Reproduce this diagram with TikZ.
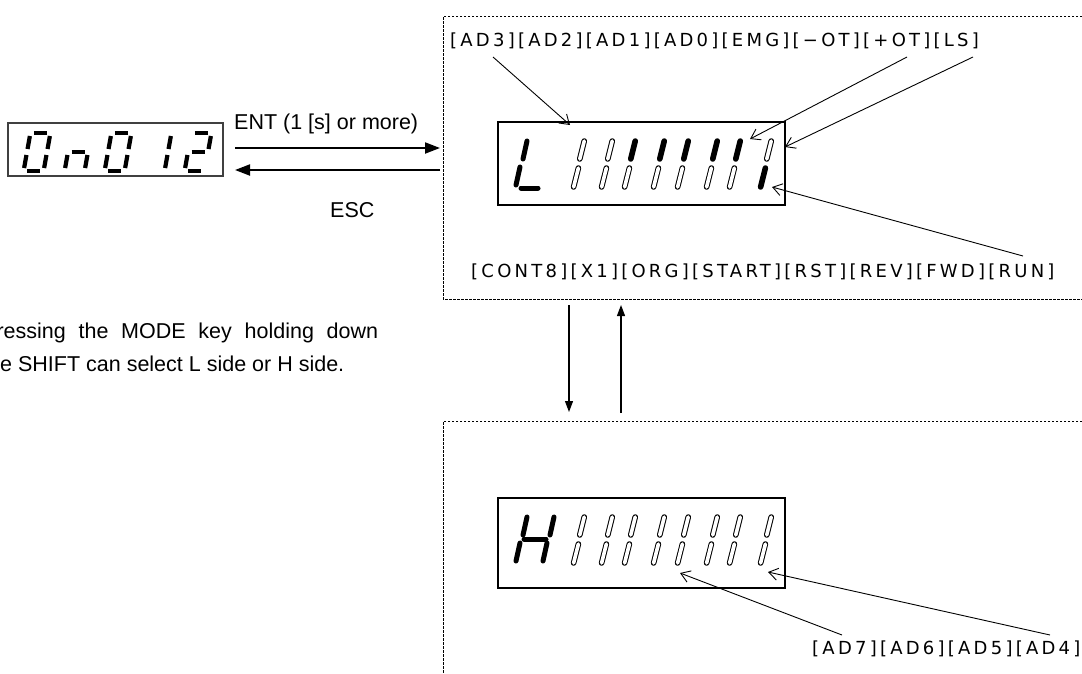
\documentclass[tikz,border=0pt]{standalone}
\usepackage{fontspec}
\setmainfont{Liberation Sans}
\newfontfamily\labfont[LetterSpace=18]{DejaVu Sans}
\usetikzlibrary{arrows.meta}
\newcommand\ssTop[1]{\draw[seg7] (#1-3.08,133)--(#1+9.92,133);}
\newcommand\ssMid[1]{\draw[seg7] (#1-6.5,152)--(#1+6.5,152);}
\newcommand\ssBot[1]{\draw[seg7] (#1-9.92,171)--(#1+3.08,171);}
\newcommand\ssUL[1]{\draw[seg7] (#1-7.12,136)--(#1-9.46,149);}
\newcommand\ssUR[1]{\draw[seg7] (#1+12.88,136)--(#1+10.54,149);}
\newcommand\ssLL[1]{\draw[seg7] (#1-10.54,155)--(#1-12.88,168);}
\newcommand\ssLR[1]{\draw[seg7] (#1+9.46,155)--(#1+7.12,168);}
\begin{document}
\begin{tikzpicture}[x=1pt,y=-1pt,
  seg7/.style={line width=4.2pt},
  segon/.style={line width=5pt, line cap=round},
  segouter/.style={line width=5.6pt, line cap=round},
  seginner/.style={line width=3.6pt, line cap=round, white},
  disp/.style={draw, line width=1.8pt},
  dbox/.style={dash pattern=on 2.5pt off 1.5pt, line width=0.8pt},
  bigarrow/.style={line width=2pt, -{Triangle[length=15pt,width=11pt]}},
  midarrow/.style={line width=1.2pt, -{Triangle[length=11pt,width=8pt]}},
  thinarrow/.style={line width=0.9pt, -{Straight Barb[length=9pt,width=12pt]}},
  lab/.style={font=\fontsize{18}{18}\labfont, inner sep=0pt, anchor=base west},
  txt/.style={font=\fontsize{21.5}{21.5}\selectfont, inner sep=0pt, anchor=base west}
]
\useasboundingbox (0,0) rectangle (1082,673);
% dashed frames
\draw[dbox] (1082,16) -- (443,16) -- (443,299) -- (1082,299);
\draw[dbox] (1082,421) -- (443,421) -- (443,673);
% left display
\draw[line width=1.4pt, black!75] (8,123) rectangle (223,176);
\ssTop{37}\ssUL{37}\ssUR{37}\ssLL{37}\ssLR{37}\ssBot{37}
\ssMid{78}\ssLL{78}\ssLR{78}
\ssTop{118}\ssUL{118}\ssUR{118}\ssLL{118}\ssLR{118}\ssBot{118}
\ssUR{158}\ssLR{158}
\ssTop{198}\ssUR{198}\ssMid{198}\ssLL{198}\ssBot{198}
% L display
\node[disp, minimum width=287pt, minimum height=83pt, inner sep=0pt, anchor=north west] (ldisp) at (497,121) {};
\draw[segon] (527,141) -- (523,159);
\draw[segon] (520,167) -- (516,185);
\draw[segon] (521,188) -- (538,188);
\foreach \ux/\up/\lo in {582/0/0,610/0/0,633/1/0,662/1/0,686/1/0,715/1/0,738/1/0,769/0/1}{
  \draw[segouter] (\ux+2.25,141) -- (\ux-2.25,159);
  \ifnum\up=0 \draw[seginner] (\ux+2.25,141) -- (\ux-2.25,159);\fi
  \draw[segouter] (\ux-3.6,168) -- (\ux-8.4,187);
  \ifnum\lo=0 \draw[seginner] (\ux-3.6,168) -- (\ux-8.4,187);\fi
}
% H display
\node[disp, minimum width=287pt, minimum height=90pt, inner sep=0pt, anchor=north west] (hdisp) at (497,497) {};
\draw[segon] (527,517) -- (523,535);
\draw[segon] (520,543) -- (516,561);
\draw[segon] (554,517) -- (550,535);
\draw[segon] (547,543) -- (543,561);
\draw[segon] (524,539) -- (546,539);
\foreach \ux in {582,610,633,662,686,715,738,769}{
  \draw[segouter] (\ux+2.25,517) -- (\ux-2.25,535);
  \draw[seginner] (\ux+2.25,517) -- (\ux-2.25,535);
  \draw[segouter] (\ux-3.6,544) -- (\ux-8.4,563);
  \draw[seginner] (\ux-3.6,544) -- (\ux-8.4,563);
}
% labels
\node[lab] (toplab) at (450,46) {[AD3][AD2][AD1][AD0][EMG][−OT][+OT][LS]};
\node[lab] (botlab) at (471,277) {[CONT8][X1][ORG][START][RST][REV][FWD][RUN]};
\node[lab] (hlab) at (812,654) {[AD7][AD6][AD5][AD4]};
\node[txt] (ent) at (234,129) {ENT (1 [s] or more)};
\node[txt] (esc) at (330,217) {ESC};
\node[txt] (note1) at (-18,338) {\makebox[396pt][s]{Pressing the MODE key holding down}};
\node[txt] (note2) at (-18,371) {the SHIFT can select L side or H side.};
% connectors
\coordinate (entS) at (235,148); \coordinate (entE) at (440,148);
\coordinate (escS) at (440,170); \coordinate (escE) at (235,170);
\draw[bigarrow] (entS) -- (entE);
\draw[bigarrow] (escS) -- (escE);
\coordinate (dnS) at (569,305); \coordinate (dnE) at (569,412);
\coordinate (upS) at (621,413); \coordinate (upE) at (621,305);
\draw[midarrow] (dnS) -- (dnE);
\draw[midarrow] (upS) -- (upE);
\coordinate (a3s) at (493,57); \coordinate (a3t) at (570,125);
\coordinate (o1s) at (907,57); \coordinate (o1t) at (750,139);
\coordinate (o2s) at (973,57); \coordinate (o2t) at (785,147);
\coordinate (rns) at (1023,256); \coordinate (rnt) at (772,187);
\coordinate (a7s) at (842,635); \coordinate (a7t) at (680,573);
\coordinate (a4s) at (1050,635); \coordinate (a4t) at (768,572);
\foreach \s/\t in {a3s/a3t,o1s/o1t,o2s/o2t,rns/rnt,a7s/a7t,a4s/a4t}
  \draw[thinarrow] (\s) -- (\t);
\end{tikzpicture}
\end{document}
